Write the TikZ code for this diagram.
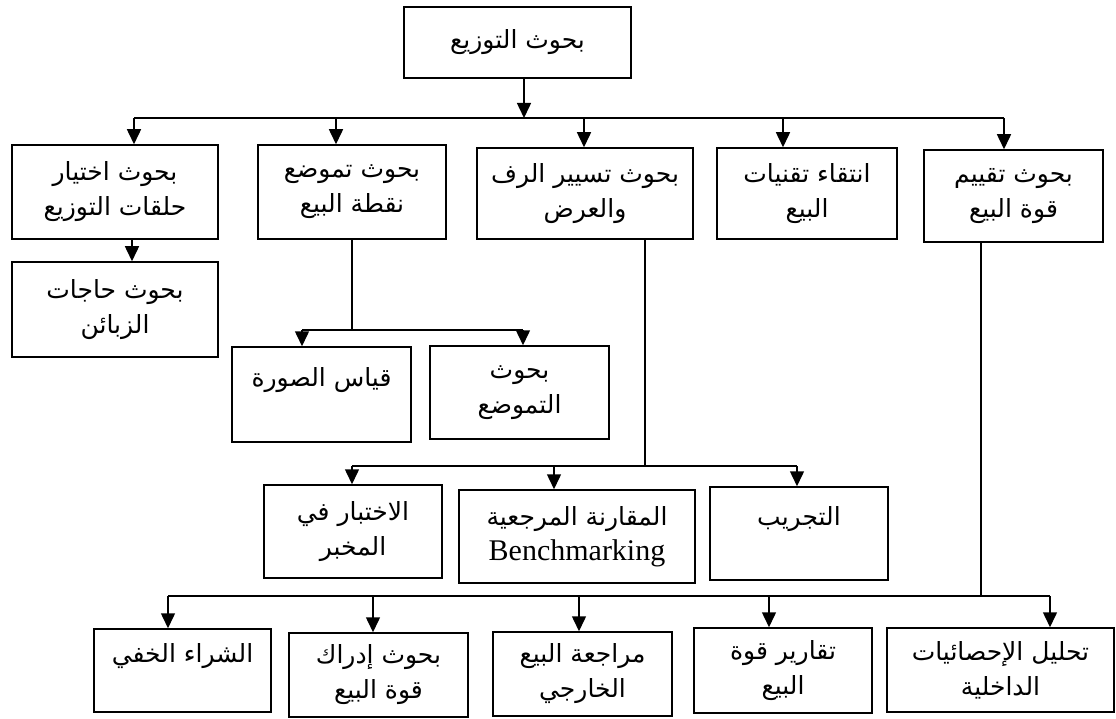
\documentclass[tikz,border=0pt]{standalone}
\usepackage{fontspec}
\usetikzlibrary{arrows.meta}
\newfontfamily\arabicfont[Script=Arabic]{DejaVu Sans}
\newfontfamily\latinserif{Liberation Serif}
\TeXXeTstate=1
\newcommand\rl[1]{\beginR #1\endR}
\begin{document}
\begin{tikzpicture}[x=1pt, y=-1pt,
  box/.style={draw, line width=1.5pt, inner sep=0pt, align=center,
    font=\arabicfont\fontsize{25}{35}\selectfont},
  ln/.style={line width=1.5pt},
  arr/.style={line width=1.5pt, -{Triangle[length=15pt,width=14pt]}}]
\useasboundingbox (0,0) rectangle (1116,719);

% top level
\node[box, minimum width=227pt, minimum height=71pt] (top) at (517.5,42.5) {\rl{بحوث التوزيع}};

% first row
\node[box, minimum width=206pt, minimum height=94pt] (b1) at (115,192) {\rl{بحوث اختيار}\\\rl{حلقات التوزيع}};
\node[box, minimum width=188pt, minimum height=94pt] (b2) at (352,192) {\rl{بحوث تموضع}\\\rl{نقطة البيع}};
\node[box, minimum width=216pt, minimum height=91pt] (b3) at (585,193.5) {\rl{بحوث تسيير الرف}\\\rl{والعرض}};
\node[box, minimum width=180pt, minimum height=91pt] (b4) at (807,193.5) {\rl{انتقاء تقنيات}\\\rl{البيع}};
\node[box, minimum width=179pt, minimum height=92pt] (b5) at (1013.5,196) {\rl{بحوث تقييم}\\\rl{قوة البيع}};

% children of the first row
\node[box, minimum width=206pt, minimum height=95pt] (b1c) at (115,309.5) {\rl{بحوث حاجات}\\\rl{الزبائن}};
\node[box, minimum width=179pt, minimum height=95pt] (b2a) at (321.5,394.5) {\rl{قياس الصورة}\\\mbox{}};
\node[box, minimum width=179pt, minimum height=93pt] (b2b) at (519.5,392.5) {\rl{بحوث}\\\rl{التموضع}};
\node[box, minimum width=178pt, minimum height=93pt] (b3a) at (353,531.5) {\rl{الاختبار في}\\\rl{المخبر}};
\node[box, minimum width=236pt, minimum height=93pt] (b3b) at (577,536.5) {\rl{المقارنة المرجعية}\\{\latinserif\fontsize{30}{35}\selectfont Benchmarking}};
\node[box, minimum width=178pt, minimum height=93pt] (b3c) at (799,533.5) {\rl{التجريب}\\\mbox{}};

% bottom row
\node[box, minimum width=177pt, minimum height=83pt] (d1) at (182.5,670.5) {\rl{الشراء الخفي}\\\mbox{}};
\node[box, minimum width=179pt, minimum height=84pt] (d2) at (378.5,675) {\rl{بحوث إدراك}\\\rl{قوة البيع}};
\node[box, minimum width=179pt, minimum height=84pt] (d3) at (582.5,674) {\rl{مراجعة البيع}\\\rl{الخارجي}};
\node[box, minimum width=178pt, minimum height=85pt] (d4) at (783,670.5) {\rl{تقارير قوة}\\\rl{البيع}};
\node[box, minimum width=227pt, minimum height=84pt] (d5) at (1000.5,670) {\rl{تحليل الإحصائيات}\\\rl{الداخلية}};

% bus below the top box
\coordinate (j0) at (524,118);
\coordinate (t1) at (134,118);
\coordinate (t2) at (336,118);
\coordinate (t3) at (584,118);
\coordinate (t4) at (783,118);
\coordinate (t5) at (1004,118);
\draw[arr] (top.south -| j0) -- (j0);
\draw[ln] (t1) -- (t5);
\foreach \t/\b in {t1/b1, t2/b2, t3/b3, t4/b4, t5/b5}
  \draw[arr] (\t) -- (\t |- \b.north);

% first column
\coordinate (s1) at (132,0);
\draw[arr] (b1.south -| s1) -- (b1c.north -| s1);

% second column
\coordinate (j2) at (352,330);
\coordinate (u1) at (302,330);
\coordinate (u2) at (523,330);
\draw[ln] (b2.south -| j2) -- (j2);
\draw[ln] (u1) -- (u2);
\draw[arr] (u1) -- (u1 |- b2a.north);
\draw[arr] (u2) -- (u2 |- b2b.north);

% third column
\coordinate (j3) at (645,466);
\coordinate (v1) at (352,466);
\coordinate (v2) at (554,466);
\coordinate (v3) at (797,466);
\draw[ln] (b3.south -| j3) -- (j3);
\draw[ln] (v1) -- (v3);
\draw[arr] (v1) -- (v1 |- b3a.north);
\draw[arr] (v2) -- (v2 |- b3b.north);
\draw[arr] (v3) -- (v3 |- b3c.north);

% fifth column
\coordinate (j5) at (981,596);
\coordinate (w1) at (168,596);
\coordinate (w2) at (373,596);
\coordinate (w3) at (579,596);
\coordinate (w4) at (769,596);
\coordinate (w5) at (1050,596);
\draw[ln] (b5.south -| j5) -- (j5);
\draw[ln] (w1) -- (w5);
\draw[arr] (w1) -- (w1 |- d1.north);
\draw[arr] (w2) -- (w2 |- d2.north);
\draw[arr] (w3) -- (w3 |- d3.north);
\draw[arr] (w4) -- (w4 |- d4.north);
\draw[arr] (w5) -- (w5 |- d5.north);
\end{tikzpicture}
\end{document}
